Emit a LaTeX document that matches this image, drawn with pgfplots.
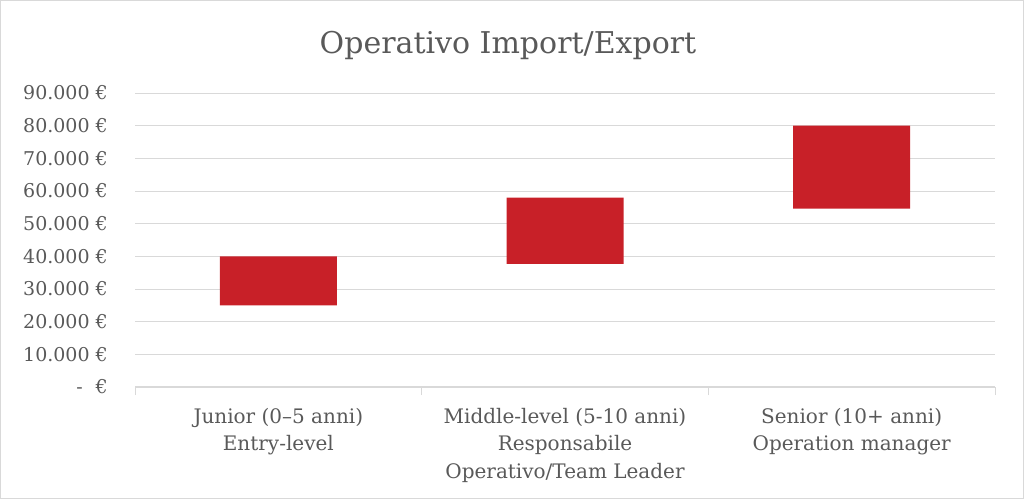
\documentclass[border=0pt]{standalone}
\usepackage{pgfplots}
\pgfplotsset{compat=1.18}
\usepackage{fontspec}
\setmainfont{DejaVu Serif}
\definecolor{txt}{HTML}{595959}
\definecolor{grd}{HTML}{D9D9D9}
\definecolor{barred}{RGB}{200,32,40}
\begin{document}
\begin{tikzpicture}[x=1pt,y=1pt]
\useasboundingbox (0,0) rectangle (1024,499);
\draw[draw=grd,line width=1.2pt] (0.6,0.6) rectangle (1023.4,498.4);
\node[anchor=base,text=txt,font=\fontsize{30}{36}\selectfont,inner sep=0] at (508,445) {Operativo Import/Export};
\begin{axis}[
  at={(135pt,112pt)}, anchor=south west,
  scale only axis, width=860pt, height=294pt,
  xmin=-0.5, xmax=2.5, ymin=0, ymax=90000,
  scaled y ticks=false,
  axis line style={draw=none},
  axis x line*=bottom,
  ytick={0,10000,20000,30000,40000,50000,60000,70000,80000,90000},
  yticklabels={{-\hspace{13pt}€},{10.000 €},{20.000 €},{30.000 €},{40.000 €},{50.000 €},{60.000 €},{70.000 €},{80.000 €},{90.000 €}},
  ymajorgrids, grid style={draw=grd, line width=1pt},
  tick style={draw=none},
  major tick length=0pt,
  yticklabel style={anchor=east, inner sep=0pt, xshift=-27pt, text=txt, font=\fontsize{19}{23}\selectfont},
  xtick={0,1,2},
  xticklabels={{Junior (0–5 anni)\\Entry-level},{Middle-level (5-10 anni)\\Responsabile\\Operativo/Team Leader},{Senior (10+ anni)\\Operation manager}},
  xticklabel style={align=center, anchor=north, inner sep=0pt, yshift=-21pt, text=txt, font=\fontsize{20}{27.5}\selectfont},
  extra x ticks={-0.5,0.5,1.5,2.5},
  extra x tick labels={},
  extra x tick style={major tick length=8pt, tick align=outside, tick style={draw=grd, line width=1pt}, grid=none},
  ybar stacked, bar width=117pt,
]
\addplot[draw=none, fill=none] coordinates {(0,25000) (1,37700) (2,54600)};
\addplot[draw=none, fill=barred] coordinates {(0,15000) (1,20300) (2,25400)};
\draw[draw=grd, line width=1.2pt] (axis cs:-0.5,0) -- (axis cs:2.5,0);
\end{axis}
\end{tikzpicture}
\end{document}
